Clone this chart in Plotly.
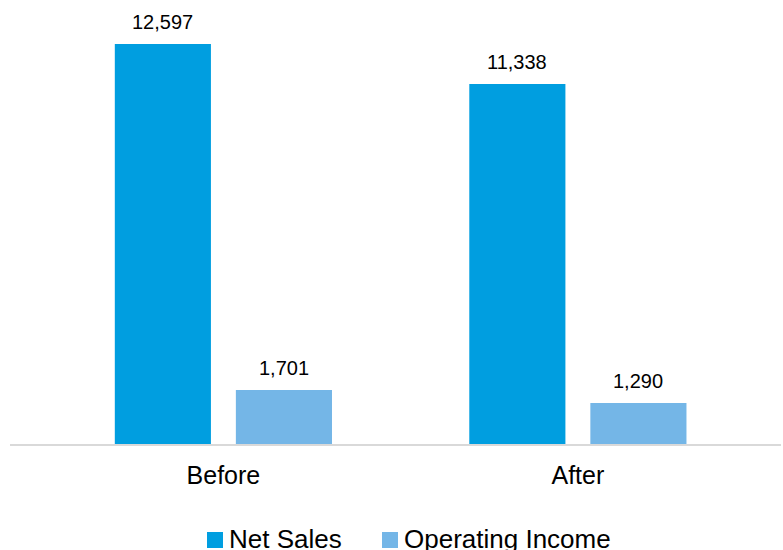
import plotly.graph_objects as go

categories = ["Before", "After"]
net_sales = [12597, 11338]
operating_income = [1701, 1290]
series_names = ["Net Sales", "Operating Income"]
colors = ["#009ee0", "#74b6e7"]

FONT = "Liberation Sans, Arial"

fig = go.Figure()
for name, vals, col in zip(series_names, [net_sales, operating_income], colors):
    fig.add_trace(go.Bar(x=categories, y=vals, name=name, showlegend=False,
                         marker=dict(color=col, line=dict(width=0))))

# data labels as annotations above each bar
slot_px = 60.5
for i, vals in enumerate([net_sales, operating_income]):
    shift = -slot_px if i == 0 else slot_px
    for c, v in zip(categories, vals):
        fig.add_annotation(x=c, y=v, text=f"{v:,}", showarrow=False, yanchor="bottom",
                           xshift=shift, yshift=9,
                           font=dict(family=FONT, size=20, color="#000000"))

# custom legend (pixel layout converted to paper coords)
W, H = 783, 550
ml, mr, mt, mb = 10, 2, 20, 106
pw, ph = W - ml - mr, H - mt - mb
px = lambda v: (v - ml) / pw
py = lambda v: (H - mb - v) / ph
legend_x = [207, 382]
for name, col, lx in zip(series_names, colors, legend_x):
    fig.add_shape(type="rect", xref="paper", yref="paper",
                  x0=px(lx), x1=px(lx + 16), y0=py(548), y1=py(532),
                  fillcolor=col, line=dict(width=0))
    fig.add_annotation(xref="paper", yref="paper", x=px(lx + 20), y=py(539),
                       xanchor="left", yanchor="middle", showarrow=False, text=name,
                       font=dict(family=FONT, size=26, color="#000000"))

fig.update_layout(
    width=W, height=H,
    margin=dict(l=ml, r=mr, t=mt, b=mb, autoexpand=False),
    paper_bgcolor="white", plot_bgcolor="white",
    barmode="group", bargap=0.317, bargroupgap=0.206,
    font=dict(family=FONT, color="#000000"),
    showlegend=False,
    xaxis=dict(range=[-0.602, 1.573], showline=True, linecolor="#d9d9d9", linewidth=1.5,
               showgrid=False, zeroline=False, ticks="", tickfont=dict(size=25, color="#000000"),
               ticklabelstandoff=8, fixedrange=True),
    yaxis=dict(range=[0, 13353], visible=False, showgrid=False, zeroline=False),
)

fig.write_html("out.html")
